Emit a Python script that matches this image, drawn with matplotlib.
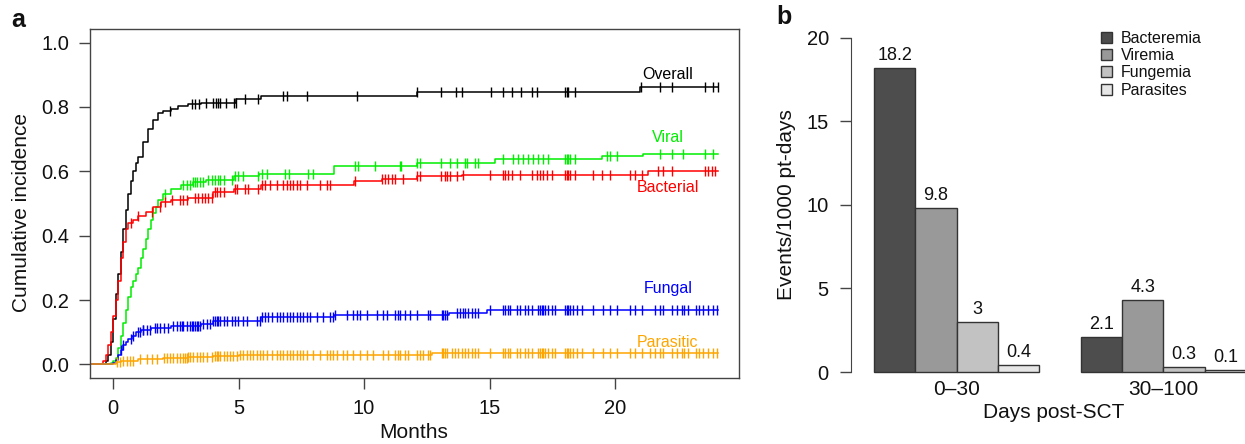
"""Cumulative incidence of infections (a) and event rates by period (b)."""
import numpy as np
import matplotlib as mpl
mpl.use("Agg")
from matplotlib import pyplot as pl
from matplotlib.patches import Patch

mpl.rcParams["font.family"] = ["Liberation Sans", "DejaVu Sans"]
mpl.rcParams["text.color"] = "#111111"
mpl.rcParams["xtick.color"] = "#444444"
mpl.rcParams["ytick.color"] = "#444444"
mpl.rcParams["xtick.labelcolor"] = "#111111"
mpl.rcParams["ytick.labelcolor"] = "#111111"

# ---- panel a: cumulative incidence step curves (months, incidence) ----
overall_t = [-0.85, -0.3, -0.2, -0.1, 0.0, 0.1, 0.2, 0.3, 0.4, 0.5, 0.6, 0.7, 0.8,
             0.9, 1.0, 1.2, 1.4, 1.6, 1.8, 2.0, 2.3, 2.6, 3.0, 3.5, 4.9, 5.9, 12.1,
             21.0, 24.1]
overall_v = [0.0, 0.01, 0.03, 0.07, 0.14, 0.22, 0.28, 0.35, 0.42, 0.48, 0.53, 0.57,
             0.60, 0.625, 0.645, 0.69, 0.73, 0.76, 0.78, 0.787, 0.795, 0.803, 0.81,
             0.813, 0.825, 0.834, 0.847, 0.861, 0.861]
overall_cens = [2.27, 3.14, 3.27, 3.44, 3.71, 4.0, 4.09, 4.17, 4.26, 4.49, 4.82, 4.89,
                5.26, 5.79, 6.78, 6.94, 7.74, 9.71, 12.1, 13.07, 13.67, 13.92, 15.06,
                15.52, 15.91, 16.24, 16.68, 16.9, 18.0, 18.07, 18.14, 18.4, 21.03,
                21.79, 22.26, 23.59, 23.92, 24.1]

viral_t = [-0.85, -0.1, 0.0, 0.1, 0.2, 0.3, 0.4, 0.5, 0.6, 0.7, 0.8, 0.9, 1.0, 1.1,
           1.2, 1.3, 1.4, 1.5, 1.6, 1.7, 1.8, 2.0, 2.3, 2.7, 3.2, 3.7, 4.8, 5.8, 8.8,
           12.1, 15.2, 19.5, 21.1, 24.1]
viral_v = [0.0, 0.005, 0.01, 0.02, 0.05, 0.09, 0.13, 0.17, 0.21, 0.24, 0.26, 0.28,
           0.30, 0.33, 0.36, 0.39, 0.42, 0.45, 0.47, 0.49, 0.51, 0.53, 0.545, 0.558,
           0.567, 0.573, 0.584, 0.592, 0.615, 0.625, 0.638, 0.646, 0.653, 0.653]
viral_cens = [2.07, 2.80, 2.93, 3.07, 3.20, 3.27, 3.33, 3.47, 3.60, 3.80, 3.93, 4.06,
              4.20, 4.26, 4.40, 4.73, 4.86, 4.99, 5.19, 5.79, 5.92, 6.12, 6.85, 6.99,
              7.78, 7.98, 9.64, 9.77, 10.44, 11.43, 11.47, 12.10, 12.23, 13.07, 13.43,
              13.70, 14.02, 14.09, 14.42, 14.56, 15.55, 15.95, 16.15, 16.35, 16.55,
              16.75, 16.95, 17.14, 17.34, 18.01, 18.07, 18.14, 18.21, 18.41, 19.67,
              19.80, 20.07, 21.79, 22.26, 22.72, 23.59, 23.92]

bacterial_t = [-0.85, -0.4, -0.3, -0.2, -0.1, 0.0, 0.1, 0.2, 0.3, 0.4, 0.5, 0.6, 0.8,
               1.0, 1.3, 1.6, 1.9, 2.3, 3.0, 4.0, 4.8, 5.9, 9.6, 10.7, 12.1, 13.9,
               21.3, 24.1]
bacterial_v = [0.0, 0.01, 0.03, 0.06, 0.10, 0.15, 0.20, 0.26, 0.33, 0.38, 0.42, 0.44,
               0.45, 0.46, 0.475, 0.49, 0.505, 0.512, 0.517, 0.535, 0.545, 0.558,
               0.57, 0.576, 0.584, 0.589, 0.60, 0.60]
bacterial_cens = [0.73, 1.01, 1.54, 1.86, 2.07, 2.34, 2.67, 2.80, 2.93, 3.27, 3.40, 3.53,
                  3.67, 3.80, 3.93, 4.06, 4.13, 4.26, 4.40, 4.86, 4.93, 5.26, 5.39,
                  5.79, 5.92, 6.06, 6.25, 6.52, 6.79, 6.92, 7.05, 7.18, 7.32, 7.45,
                  7.72, 8.25, 8.51, 8.65, 9.64, 10.70, 10.84, 10.97, 11.10, 11.24,
                  11.57, 12.10, 12.23, 13.07, 13.23, 13.29, 13.43, 13.70, 13.96, 15.02,
                  15.55, 15.62, 15.75, 15.88, 16.22, 16.68, 16.88, 17.01, 17.14, 17.28,
                  17.48, 18.01, 18.07, 18.14, 18.21, 18.41, 19.14, 19.47, 19.80, 20.60,
                  20.80, 21.06, 21.73, 21.93, 22.26, 23.59, 23.72, 23.86, 23.99]

fungal_t = [-0.85, 0.0, 0.1, 0.2, 0.3, 0.4, 0.5, 0.6, 0.75, 0.9, 1.1, 1.5, 2.3, 3.5,
            4.0, 5.9, 8.8, 10.5, 13.4, 14.9, 24.1]
fungal_v = [0.0, 0.005, 0.015, 0.03, 0.045, 0.06, 0.07, 0.08, 0.09, 0.10, 0.108, 0.114,
            0.119, 0.127, 0.134, 0.148, 0.153, 0.155, 0.161, 0.17, 0.17]
fungal_cens = [0.33, 0.41, 0.73, 0.81, 1.0, 1.08, 1.2, 1.21, 1.34, 1.46, 1.66, 1.74,
               1.87, 2.01, 2.20, 2.40, 2.54, 2.67, 2.74, 2.80, 2.93, 3.07, 3.13, 3.20,
               3.27, 3.33, 3.40, 3.47, 3.60, 3.73, 3.86, 4.00, 4.06, 4.13, 4.20, 4.26,
               4.40, 4.53, 4.73, 4.86, 4.99, 5.19, 5.33, 5.72, 5.86, 5.92, 6.06, 6.19,
               6.32, 6.52, 6.65, 6.79, 6.92, 7.05, 7.18, 7.32, 7.45, 7.58, 7.72, 7.85,
               8.11, 8.38, 8.65, 8.78, 8.84, 9.31, 9.57, 9.71, 9.84, 10.11, 10.50,
               10.77, 10.90, 11.24, 11.37, 11.43, 11.63, 11.83, 12.10, 12.56, 12.63,
               13.09, 13.16, 13.23, 13.29, 13.69, 13.82, 13.96, 14.02, 14.16, 14.29,
               14.42, 14.56, 15.02, 15.55, 15.62, 15.75, 15.82, 16.08, 16.22, 16.41,
               16.55, 16.68, 16.95, 17.01, 17.08, 17.14, 17.21, 17.34, 17.48, 17.61,
               18.01, 18.07, 18.14, 18.21, 18.34, 18.47, 18.67, 19.14, 19.53, 19.80,
               20.07, 20.60, 20.80, 21.06, 21.59, 21.79, 21.93, 22.26, 22.46, 22.66,
               22.76, 22.89, 23.23, 23.36, 23.49, 23.72, 23.92, 24.05]

parasitic_t = [-0.85, 0.0, 0.1, 0.3, 1.0, 2.0, 3.0, 4.0, 5.0, 12.7, 24.1]
parasitic_v = [0.0, 0.003, 0.008, 0.012, 0.016, 0.02, 0.023, 0.026, 0.029, 0.036, 0.036]
parasitic_cens = [0.15, 0.28, 0.41, 0.54, 0.68, 0.81, 1.08, 1.34, 1.54, 1.74, 2.01,
                  2.14, 2.27, 2.40, 2.54, 2.67, 2.80, 2.87, 2.93, 3.00, 3.07, 3.20,
                  3.33, 3.47, 3.60, 3.73, 3.93, 4.06, 4.13, 4.20, 4.26, 4.40, 4.53,
                  4.66, 4.79, 4.93, 5.06, 5.19, 5.33, 5.46, 5.59, 5.72, 5.86, 5.99,
                  6.12, 6.32, 6.52, 6.65, 6.79, 6.92, 7.05, 7.18, 7.32, 7.45, 7.58,
                  7.72, 7.98, 8.25, 8.51, 8.65, 8.78, 8.91, 9.18, 9.31, 9.57, 9.84,
                  10.11, 10.37, 10.77, 10.97, 11.24, 11.37, 11.43, 11.63, 11.77, 12.10,
                  12.23, 12.36, 12.56, 12.63, 13.09, 13.16, 13.23, 13.29, 13.49, 13.63,
                  13.76, 13.89, 14.02, 14.16, 14.29, 14.42, 14.56, 15.02, 15.55, 15.62,
                  15.75, 15.82, 16.08, 16.22, 16.41, 16.55, 16.68, 16.95, 17.01, 17.08,
                  17.14, 17.21, 17.34, 17.48, 17.61, 18.01, 18.07, 18.14, 18.21, 18.34,
                  18.47, 18.67, 19.14, 19.53, 19.80, 20.07, 20.60, 20.80, 21.06, 21.39,
                  21.59, 21.79, 21.93, 22.26, 22.46, 22.66, 22.76, 22.89, 23.23, 23.36,
                  23.49, 23.72, 23.92, 24.05]

curve_names = ["Overall", "Viral", "Bacterial", "Fungal", "Parasitic"]
curve_colors = ["black", "#00ee00", "#ff0000", "#0000ff", "#ffa500"]
label_pos = [(22.1, 0.902), (22.1, 0.704), (22.1, 0.549), (22.1, 0.236), (22.1, 0.068)]

# ---- panel b: event rates ----
periods = ["0\u201330", "30\u2013100"]
infection_types = ["Bacteremia", "Viremia", "Fungemia", "Parasites"]
rate_bacteremia = [18.2, 2.1]
rate_viremia = [9.8, 4.3]
rate_fungemia = [3.0, 0.3]
rate_parasites = [0.4, 0.1]
rate_labels = [["18.2", "2.1"], ["9.8", "4.3"], ["3", "0.3"], ["0.4", "0.1"]]
bar_colors = ["#4d4d4d", "#999999", "#c2c2c2", "#e6e6e6"]

W, H = 1245, 444
fig = pl.figure(figsize=(W / 100, H / 100), dpi=100)


def px_axes(left, top, right, bottom):
    return fig.add_axes([left / W, 1 - bottom / H, (right - left) / W, (bottom - top) / H])


# ===== panel a =====
ax = px_axes(90, 29, 739, 378)
curves = [(overall_t, overall_v, overall_cens), (viral_t, viral_v, viral_cens),
          (bacterial_t, bacterial_v, bacterial_cens), (fungal_t, fungal_v, fungal_cens),
          (parasitic_t, parasitic_v, parasitic_cens)]
for (t, v, cens), name, col, lp in zip(curves, curve_names, curve_colors, label_pos):
    t = np.array(t)
    v = np.array(v)
    ax.step(t, v, where="post", color=col, lw=1.1, zorder=3)
    cens = np.array(cens)
    idx = np.searchsorted(t, cens, side="right") - 1
    ax.plot(cens, v[idx], ls="none", marker="|", ms=7.5, mew=1.0, color=col, zorder=3)
    ax.text(lp[0], lp[1], name, color=col, fontsize=11.5, ha="center", va="center")

ax.set_xlim(-0.92, 24.94)
ax.set_ylim(-0.042, 1.042)
ax.set_xticks([0, 5, 10, 15, 20])
ax.set_yticks([0.0, 0.2, 0.4, 0.6, 0.8, 1.0])
ax.set_yticklabels(["0.0", "0.2", "0.4", "0.6", "0.8", "1.0"])
ax.tick_params(axis="both", length=8, width=1.0, labelsize=14.5, pad=7)
for s in ax.spines.values():
    s.set_color("#444444")
    s.set_linewidth(1.0)
fig.text(22 / W, 1 - 212 / H, "Cumulative incidence", rotation=90,
         ha="center", va="center", fontsize=15)
fig.text(414 / W, 1 - 432 / H, "Months", ha="center", va="center", fontsize=15)
fig.text(18 / W, 1 - 20 / H, "a", fontsize=18, fontweight="bold", ha="center", va="center")

# ===== panel b =====
bx = px_axes(851, 24.6, 1265, 372)
series = [rate_bacteremia, rate_viremia, rate_fungemia, rate_parasites]
group_x = np.arange(len(periods)) * 5
for i, (vals, col, labs) in enumerate(zip(series, bar_colors, rate_labels)):
    xs = group_x + 1.5 + i
    bx.bar(xs, vals, width=1.0, color=col, edgecolor="#333333", linewidth=1.0,
           zorder=2, clip_on=False)
    for x, y, lab in zip(xs, vals, labs):
        bx.text(x, y + 0.75, lab, ha="center", va="center", fontsize=13)

bx.set_xlim(0.44, 10.46)
bx.set_ylim(0, 20.8)
bx.set_yticks([0, 5, 10, 15, 20])
bx.set_xticks(group_x + 3)
bx.set_xticklabels(periods)
bx.tick_params(axis="y", length=8, width=1.0, labelsize=14.5, pad=8)
bx.tick_params(axis="x", length=0, labelsize=15, pad=6)
for side in ["top", "right", "bottom"]:
    bx.spines[side].set_visible(False)
bx.spines["left"].set_bounds(0, 20)
bx.spines["left"].set_color("#444444")
bx.patch.set_visible(False)
fig.text(787 / W, 1 - 205 / H, "Events/1000 pt-days", rotation=90,
         ha="center", va="center", fontsize=15)
fig.text(1054 / W, 1 - 412 / H, "Days post-SCT", ha="center", va="center", fontsize=15)
fig.text(784 / W, 1 - 17 / H, "b", fontsize=18, fontweight="bold", ha="center", va="center")

handles = [Patch(facecolor=c, edgecolor="#333333", linewidth=1.0) for c in bar_colors]
fig.legend(handles, infection_types, loc="upper left",
           bbox_to_anchor=(1101 / W, 1 - 31 / H), frameon=False, fontsize=11.5,
           handlelength=0.7, handleheight=0.7, labelspacing=0.14,
           handletextpad=0.55, borderaxespad=0.0, borderpad=0.0)

fig.savefig("out.png", dpi=100)
